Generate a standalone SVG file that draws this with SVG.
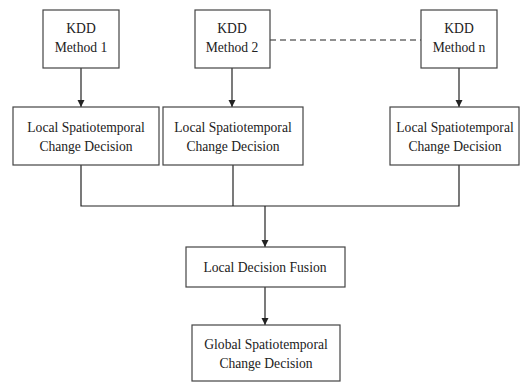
<svg xmlns="http://www.w3.org/2000/svg" width="522" height="383" viewBox="0 0 522 383">
<style>
.box{fill:#fff;stroke:#444;stroke-width:1.2}
.t{font-size:13.6px;fill:#222;text-anchor:middle}
.c{fill:none;stroke:#222;stroke-width:1.2}
</style>
<defs>
<marker id="ah" markerWidth="8" markerHeight="8" refX="7" refY="4" orient="auto" markerUnits="userSpaceOnUse">
<path d="M0,0.5 L7,4 L0,7.5 Z" fill="#222"/>
</marker>
</defs>
<rect width="522" height="383" fill="#fff"/>
<g id="connectors">
<line class="c" x1="81" y1="68" x2="81" y2="107" marker-end="url(#ah)"/>
<line class="c" x1="232" y1="68" x2="232" y2="107" marker-end="url(#ah)"/>
<line class="c" x1="459" y1="68" x2="459" y2="107" marker-end="url(#ah)"/>
<line class="c" x1="270" y1="40" x2="421" y2="40" stroke-dasharray="6,4"/>
<polyline class="c" points="81,165 81,206 459,206 459,165"/>
<line class="c" x1="233" y1="165" x2="233" y2="206"/>
<line class="c" x1="265" y1="206" x2="265" y2="247" marker-end="url(#ah)"/>
<line class="c" x1="265" y1="287" x2="265" y2="325" marker-end="url(#ah)"/>
</g>
<g font-family="Liberation Serif">
<g id="kdd1"><rect class="box" x="43" y="10" width="76" height="58"/><text class="t" x="81" y="33">KDD</text><text class="t" x="81" y="52">Method 1</text></g>
<g id="kdd2"><rect class="box" x="195" y="10" width="75" height="58"/><text class="t" x="232" y="33">KDD</text><text class="t" x="232" y="52">Method 2</text></g>
<g id="kddn"><rect class="box" x="421" y="10" width="76" height="58"/><text class="t" x="459" y="33">KDD</text><text class="t" x="459" y="52">Method n</text></g>
<g id="local1"><rect class="box" x="13" y="107" width="146" height="58"/><text class="t" x="86" y="132">Local Spatiotemporal</text><text class="t" x="86" y="151">Change Decision</text></g>
<g id="local2"><rect class="box" x="163" y="107" width="140" height="58"/><text class="t" x="233" y="132">Local Spatiotemporal</text><text class="t" x="233" y="151">Change Decision</text></g>
<g id="localn"><rect class="box" x="390" y="107" width="129" height="58"/><text class="t" x="455" y="132">Local Spatiotemporal</text><text class="t" x="455" y="151">Change Decision</text></g>
<g id="fusion"><rect class="box" x="186" y="247" width="159" height="40"/><text class="t" x="265" y="272">Local Decision Fusion</text></g>
<g id="global"><rect class="box" x="192" y="325" width="148" height="56"/><text class="t" x="266" y="349">Global Spatiotemporal</text><text class="t" x="266" y="368">Change Decision</text></g>
</g>
</svg>
